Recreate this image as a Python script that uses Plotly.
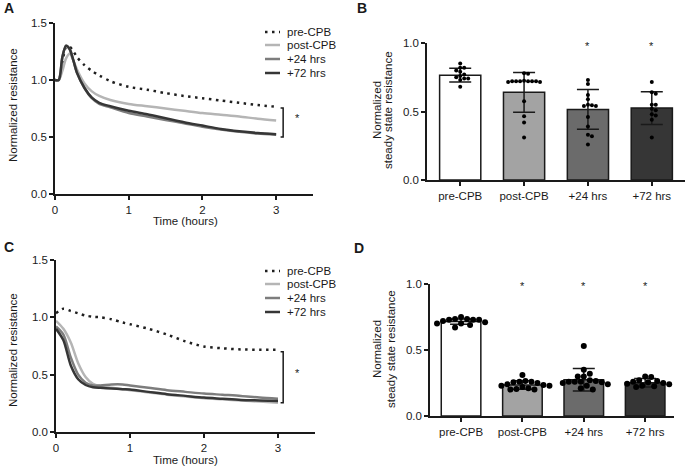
# plot.py
# Four-panel resistance figure: time courses (A, C) and steady state bars (B, D)

import plotly.graph_objects as go
from plotly.subplots import make_subplots

W, H = 685, 468
FONT = "Liberation Sans, Arial, sans-serif"
INK = "#1a1a1a"

# ─────────────────────────────────────────────
# DATA
# ─────────────────────────────────────────────

GROUPS = ["pre-CPB", "post-CPB", "+24 hrs", "+72 hrs"]

# panel A: normalized resistance over time
TIME_A = [0, 0.05, 0.1, 0.15, 0.2, 0.25, 0.3, 0.4, 0.5, 0.6, 0.75,
          1.0, 1.25, 1.5, 1.75, 2.0, 2.25, 2.5, 2.75, 3.0]
A_PRE = [1.0, 1.0, 1.15, 1.29, 1.29, 1.25, 1.20, 1.13, 1.08, 1.04, 0.99,
         0.94, 0.915, 0.885, 0.86, 0.84, 0.82, 0.80, 0.78, 0.765]
A_POST = [1.0, 1.0, 1.08, 1.19, 1.23, 1.17, 1.09, 0.97, 0.90, 0.86, 0.825,
          0.79, 0.77, 0.75, 0.73, 0.71, 0.695, 0.68, 0.66, 0.645]
A_24 = [1.0, 1.0, 1.2, 1.3, 1.27, 1.17, 1.06, 0.93, 0.84, 0.79, 0.76,
        0.71, 0.68, 0.65, 0.62, 0.59, 0.565, 0.545, 0.53, 0.52]
A_72 = [1.0, 1.0, 1.2, 1.3, 1.27, 1.17, 1.06, 0.93, 0.845, 0.80, 0.77,
        0.73, 0.70, 0.665, 0.63, 0.60, 0.57, 0.55, 0.535, 0.525]

# panel C: normalized resistance over time
TIME_C = [0, 0.1, 0.2, 0.3, 0.4, 0.5, 0.6, 0.75, 0.9, 1.0,
          1.25, 1.5, 1.75, 2.0, 2.25, 2.5, 2.75, 3.0]
C_PRE = [1.035, 1.075, 1.055, 1.035, 1.015, 1.005, 1.0, 0.983, 0.955, 0.94,
         0.90, 0.85, 0.79, 0.745, 0.73, 0.72, 0.717, 0.717]
C_POST = [0.97, 0.90, 0.78, 0.60, 0.48, 0.42, 0.40, 0.385, 0.372, 0.365,
          0.345, 0.325, 0.31, 0.295, 0.285, 0.275, 0.265, 0.255]
C_24 = [0.92, 0.85, 0.65, 0.50, 0.43, 0.405, 0.405, 0.415, 0.415, 0.405,
        0.385, 0.365, 0.35, 0.335, 0.325, 0.315, 0.30, 0.29]
C_72 = [0.90, 0.80, 0.58, 0.46, 0.41, 0.39, 0.385, 0.38, 0.373, 0.37,
        0.35, 0.33, 0.315, 0.30, 0.29, 0.28, 0.275, 0.27]

# panel B: steady state resistance (mean, SD, individual points)
B_MEAN = [0.765, 0.64, 0.515, 0.525]
B_SD = [0.05, 0.145, 0.145, 0.12]
B_PRE = [0.85, 0.82, 0.82, 0.80, 0.79, 0.77, 0.76, 0.75, 0.74, 0.74, 0.73, 0.68]
B_POST = [0.78, 0.775, 0.725, 0.72, 0.72, 0.72, 0.72, 0.72, 0.72, 0.715,
          0.715, 0.575, 0.465, 0.42, 0.31]
B_24 = [0.73, 0.70, 0.62, 0.59, 0.55, 0.545, 0.54, 0.54, 0.46, 0.39, 0.33, 0.32, 0.26]
B_72 = [0.715, 0.64, 0.63, 0.55, 0.55, 0.52, 0.51, 0.48, 0.47, 0.44, 0.31]
B_STARS = ["+24 hrs", "+72 hrs"]

# panel D: steady state resistance (mean, SD, individual points)
D_MEAN = [0.715, 0.235, 0.275, 0.252]
D_SD = [0.02, 0.032, 0.085, 0.032]
D_PRE = [0.75, 0.735, 0.735, 0.73, 0.73, 0.73, 0.72, 0.71, 0.70, 0.70, 0.69, 0.67]
D_POST = [0.31, 0.265, 0.26, 0.26, 0.255, 0.25, 0.24, 0.235, 0.23, 0.23,
          0.22, 0.21, 0.205, 0.2, 0.2]
D_24 = [0.53, 0.35, 0.32, 0.30, 0.30, 0.27, 0.265, 0.26, 0.26, 0.26,
        0.255, 0.25, 0.24, 0.23, 0.21, 0.2]
D_72 = [0.30, 0.295, 0.27, 0.265, 0.26, 0.255, 0.25, 0.245, 0.24, 0.23, 0.225, 0.22]
D_STARS = ["post-CPB", "+24 hrs", "+72 hrs"]

# ─────────────────────────────────────────────
# STYLES
# ─────────────────────────────────────────────

LINE_COLORS = ["#1f1f1f", "#b5b5b5", "#7d7d7d", "#363636"]
BAR_COLORS = ["#ffffff", "#a3a3a3", "#6b6b6b", "#363636"]
DOT_DASH = "2.5px,4.5px"


def px_x(px):
    return px / W


def px_y(py):
    return 1 - py / H


def swarm(values, dot_px, px_per_x, px_per_y):
    """Simple beeswarm: x offsets (in category units) so dots don't overlap."""
    placed = []
    offsets = [0.0] * len(values)
    order = sorted(range(len(values)), key=lambda i: -values[i])
    step = dot_px * 0.5
    for i in order:
        y = values[i] * px_per_y
        k = 0
        while True:
            cands = [0.0] if k == 0 else [k * step, -k * step]
            ok = None
            for c in cands:
                if all((c - px) ** 2 + (y - py) ** 2 >= dot_px ** 2 for px, py in placed):
                    ok = c
                    break
            if ok is not None:
                placed.append((ok, y))
                offsets[i] = ok / px_per_x
                break
            k += 1
    return offsets


fig = make_subplots(rows=2, cols=2)

# ─────────────────────────────────────────────
# LINE PANELS (A, C)
# ─────────────────────────────────────────────

for (row, t, series) in [(1, TIME_A, [A_PRE, A_POST, A_24, A_72]),
                         (2, TIME_C, [C_PRE, C_POST, C_24, C_72])]:
    for k, ys in enumerate(series):
        fig.add_trace(go.Scatter(
            x=t, y=ys, mode="lines", name=GROUPS[k], showlegend=False,
            line=dict(color=LINE_COLORS[k], width=2.5, shape="spline", smoothing=0.8,
                      dash=DOT_DASH if k == 0 else "solid"),
            hoverinfo="skip"
        ), row=row, col=1)

# ─────────────────────────────────────────────
# BAR PANELS (B, D)
# ─────────────────────────────────────────────

bar_panels = [
    (1, B_MEAN, B_SD, [B_PRE, B_POST, B_24, B_72], 4, 64, 137),
    (2, D_MEAN, D_SD, [D_PRE, D_POST, D_24, D_72], 6, 61.3, 132),
]
for row, means, sds, pts, dot, ppx, ppy in bar_panels:
    fig.add_trace(go.Bar(
        x=list(range(len(GROUPS))), y=means, width=0.645,
        marker=dict(color=BAR_COLORS, line=dict(color=INK, width=1.5)),
        error_y=dict(type="data", array=sds, color=INK, thickness=1.5, width=11),
        showlegend=False, hoverinfo="skip"
    ), row=row, col=2)
    for g, vals in enumerate(pts):
        offs = swarm(vals, dot, ppx, ppy)
        fig.add_trace(go.Scatter(
            x=[g + o for o in offs], y=vals, mode="markers", showlegend=False,
            marker=dict(color="#000000", size=dot), cliponaxis=False,
            hoverinfo="skip"
        ), row=row, col=2)

# ─────────────────────────────────────────────
# AXES
# ─────────────────────────────────────────────

axis_style = dict(showline=True, linecolor=INK, linewidth=1.5, ticks="outside",
                  ticklen=4, tickwidth=1.5, tickcolor=INK, showgrid=False,
                  zeroline=False, automargin=False,
                  tickfont=dict(size=11.5, color=INK, family=FONT))

fig.update_layout(
    xaxis=dict(domain=[px_x(55), px_x(313)], range=[0, 3.5], tickvals=[0, 1, 2, 3], **axis_style),
    yaxis=dict(domain=[px_y(194), px_y(23)], range=[0, 1.5], tickvals=[0, 0.5, 1, 1.5],
               tickformat=".1f", **axis_style),
    xaxis2=dict(domain=[px_x(427), 1.0], range=[-0.52, 3.52], tickvals=[0, 1, 2, 3],
                ticktext=GROUPS, **axis_style),
    yaxis2=dict(domain=[px_y(180), px_y(43)], range=[0, 1], tickvals=[0, 0.5, 1],
                tickformat=".1f", **axis_style),
    xaxis3=dict(domain=[px_x(56), px_x(315)], range=[0, 3.5], tickvals=[0, 1, 2, 3], **axis_style),
    yaxis3=dict(domain=[px_y(432), px_y(260)], range=[0, 1.5], tickvals=[0, 0.5, 1, 1.5],
                tickformat=".1f", **axis_style),
    xaxis4=dict(domain=[px_x(430), px_x(674)], range=[-0.506, 3.47], tickvals=[0, 1, 2, 3],
                ticktext=GROUPS, **axis_style),
    yaxis4=dict(domain=[px_y(416), px_y(284)], range=[0, 1], tickvals=[0, 0.5, 1],
                tickformat=".1f", **axis_style),
)

# ─────────────────────────────────────────────
# TEXT, LEGENDS, BRACKETS
# ─────────────────────────────────────────────

ann = []
shapes = []


def text(x, y, s, size=11.5, angle=0, xanchor="center", bold=False, xref="paper", yref="paper"):
    ann.append(dict(x=x, y=y, xref=xref, yref=yref, text=f"<b>{s}</b>" if bold else s,
                    showarrow=False, xanchor=xanchor, yanchor="middle", textangle=angle,
                    font=dict(size=size, color=INK, family=FONT)))


# panel letters
for letter, x, y in [("A", 9, 8), ("B", 362, 8), ("C", 9, 247), ("D", 359, 248)]:
    text(px_x(x), px_y(y), letter, size=14, bold=True)

# axis titles
text(px_x(13), px_y(105), "Normalized resistance", angle=-90)
text(px_x(13), px_y(350), "Normalized resistance", angle=-90)
text(px_x(185), px_y(221), "Time (hours)")
text(px_x(185), px_y(460), "Time (hours)")
text(px_x(377), px_y(110), "Normalized", angle=-90)
text(px_x(388), px_y(110), "steady state resistance", angle=-90)
text(px_x(377), px_y(349), "Normalized", angle=-90)
text(px_x(391), px_y(349), "steady state resistance", angle=-90)

# hand-drawn legends for A and C
for rows in [[32, 45, 59, 73], [271, 284, 298, 312]]:
    for k, ry in enumerate(rows):
        shapes.append(dict(type="line", xref="paper", yref="paper",
                           x0=px_x(265), x1=px_x(280), y0=px_y(ry), y1=px_y(ry),
                           line=dict(color=LINE_COLORS[k], width=2.5,
                                     dash=DOT_DASH if k == 0 else "solid")))
        text(px_x(285), px_y(ry), GROUPS[k], xanchor="left")

# significance brackets on the line panels
for xr, yr, xb, top, bot, ys in [("x", "y", 3.095, 0.755, 0.50, 0.667),
                                 ("x3", "y3", 3.07, 0.70, 0.256, 0.517)]:
    tick = 0.035
    shapes.append(dict(type="path", xref=xr, yref=yr,
                       path=f"M {xb - tick},{top} L {xb},{top} L {xb},{bot} L {xb - tick},{bot}",
                       line=dict(color=INK, width=1.5)))
    text(xb + 0.19, ys, "*", size=11, xref=xr, yref=yr)

# stars above bars
for g in B_STARS:
    text(GROUPS.index(g), 0.975, "*", size=11, xref="x2", yref="y2")
for g in D_STARS:
    text(GROUPS.index(g), 0.985, "*", size=11, xref="x4", yref="y4")

fig.update_layout(
    width=W, height=H,
    margin=dict(l=0, r=0, t=0, b=0),
    paper_bgcolor="white",
    plot_bgcolor="white",
    font=dict(family=FONT, color=INK),
    annotations=ann,
    shapes=shapes,
    showlegend=False,
)

# the page body has a default 8px margin; drop it so the figure fills the window
fig.write_html("out.html", config={"displayModeBar": False},
               post_script="document.body.style.margin='0px';")
